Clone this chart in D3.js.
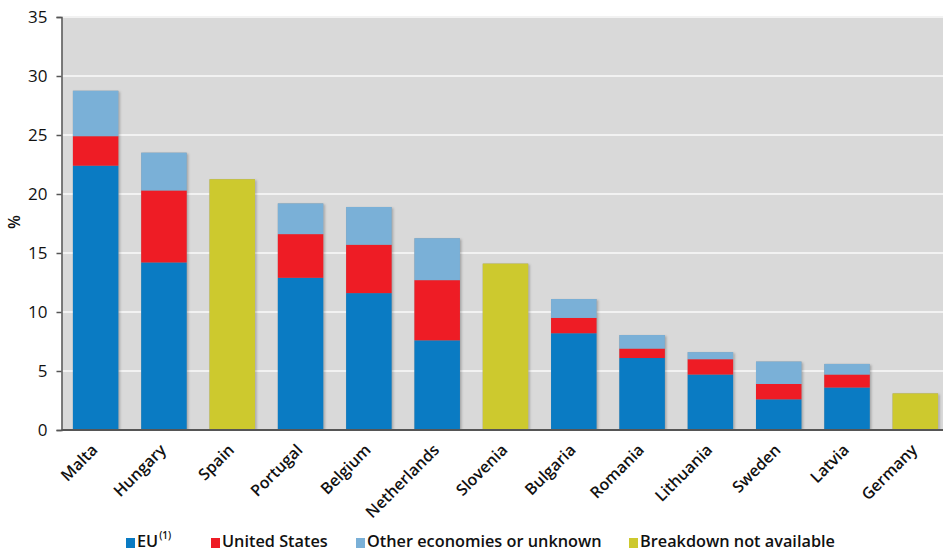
<!DOCTYPE html>
<html><head><meta charset="utf-8">
<script src="https://cdn.jsdelivr.net/npm/d3@7"></script>
<style>body{margin:0;background:#fff}svg{display:block}</style>
</head><body>
<svg id="c" width="943" height="553"></svg>
<script>
const countries = ["Malta","Hungary","Spain","Portugal","Belgium","Netherlands","Slovenia","Bulgaria","Romania","Lithuania","Sweden","Latvia","Germany"];
const euValues    = [22.4, 14.2, 0, 12.9, 11.6, 7.6, 0, 8.2, 6.1, 4.7, 2.6, 3.6, 0];
const usValues    = [2.5, 6.1, 0, 3.7, 4.1, 5.1, 0, 1.3, 0.8, 1.3, 1.3, 1.1, 0];
const otherValues = [3.85, 3.2, 0, 2.6, 3.2, 3.55, 0, 1.6, 1.15, 0.6, 1.9, 0.9, 0];
const naValues    = [0, 0, 21.25, 0, 0, 0, 14.1, 0, 0, 0, 0, 0, 3.1];
const yTicks = [0,5,10,15,20,25,30,35];
const seriesNames = ["EU","United States","Other economies or unknown","Breakdown not available"];
const colors = ["#0a7bc3","#ee1c25","#7ab0d7","#cdc92e"];

const svg = d3.select("#c");
const mLeft = 61.5, mRight = 949.5, mTop = 17, mBottom = 430;
const x = d3.scaleBand().domain(countries).range([mLeft, mRight]).paddingInner(0.334).paddingOuter(0.167);
const y = d3.scaleLinear().domain([0,35]).range([mBottom, mTop]);

const defs = svg.append("defs");
const f = defs.append("filter").attr("id","sh").attr("x","-10%").attr("y","-10%").attr("width","130%").attr("height","130%");
f.append("feDropShadow").attr("dx",1.5).attr("dy",1).attr("stdDeviation",1.2).attr("flood-color","#000").attr("flood-opacity",0.25);
defs.append("clipPath").attr("id","clip").append("rect").attr("x",mLeft).attr("y",0).attr("width",943-mLeft).attr("height",mBottom);

svg.append("rect").attr("x",mLeft).attr("y",mTop).attr("width",943-mLeft).attr("height",mBottom-mTop).attr("fill","#d9d9d9");

svg.append("g").selectAll("line").data(yTicks.filter(d=>d>0)).join("line")
  .attr("x1",mLeft).attr("x2",943).attr("y1",d=>y(d)).attr("y2",d=>y(d))
  .attr("stroke","#f2f2f2").attr("stroke-width",2);

const data = countries.map((c,i)=>({c, v:[euValues[i],usValues[i],otherValues[i],naValues[i]]}));
const stack = d3.stack().keys([0,1,2,3]).value((d,k)=>d.v[k]);
const layers = stack(data);

const bars = svg.append("g").attr("clip-path","url(#clip)");
data.forEach((d,i)=>{
  const total = d3.sum(d.v);
  bars.append("rect").attr("x",x(d.c)).attr("width",x.bandwidth())
    .attr("y",y(total)).attr("height",y(0)-y(total)).attr("fill","#999").attr("filter","url(#sh)");
});
layers.forEach((layer,k)=>{
  bars.append("g").selectAll("rect").data(layer.filter(s=>s[1]-s[0]>0)).join("rect")
    .attr("x",s=>x(s.data.c)).attr("width",x.bandwidth())
    .attr("y",s=>y(s[1])).attr("height",s=>y(s[0])-y(s[1]))
    .attr("fill",colors[k]);
});

// y axis
const ya = svg.append("g").attr("transform",`translate(${mLeft},0)`)
  .call(d3.axisLeft(y).tickValues(yTicks).tickSize(5).tickPadding(9));
ya.select(".domain").attr("stroke","#555").attr("stroke-width",1.5);
ya.selectAll(".tick line").attr("stroke","#555").attr("stroke-width",1.5);
ya.selectAll("text").attr("font-family","'Open Sans', sans-serif").attr("font-size",17).attr("fill","#111").attr("font-weight",500);

// baseline
svg.append("line").attr("x1",mLeft).attr("x2",943).attr("y1",mBottom).attr("y2",mBottom).attr("stroke","#555").attr("stroke-width",2);

// x labels
svg.append("g").selectAll("text").data(countries).join("text")
  .attr("transform",d=>`translate(${x(d)+x.bandwidth()/2+3},${mBottom+21}) rotate(-45)`)
  .attr("text-anchor","end")
  .attr("font-family","'Open Sans', sans-serif").attr("font-size",16).attr("font-weight",600).attr("fill","#111")
  .text(d=>d);

// y title
svg.append("text").attr("transform","translate(20,222) rotate(-90)").attr("text-anchor","middle")
  .attr("font-family","'Open Sans', sans-serif").attr("font-size",16).attr("font-weight",600).attr("fill","#111").text("%");

// legend
const legX = [126, 211, 356, 629];
const lg = svg.append("g");
seriesNames.forEach((n,k)=>{
  lg.append("rect").attr("x",legX[k]).attr("y",538).attr("width",9).attr("height",10).attr("fill",colors[k]);
  const t = lg.append("text").attr("x",legX[k]+11).attr("y",547)
    .attr("font-family","'Open Sans', sans-serif").attr("font-size",16.3).attr("font-weight",600).attr("fill","#111");
  t.append("tspan").text(n);
  if(k===0) t.append("tspan").attr("dy",-8).attr("font-size",10).attr("dx",1).text("(1)");
});
</script>
</body></html>
